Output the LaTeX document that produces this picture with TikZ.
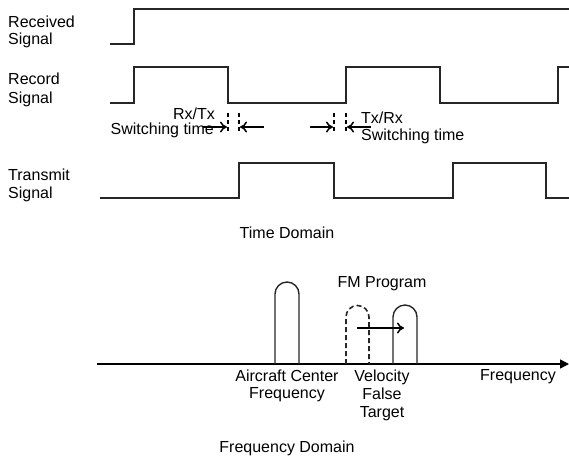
\documentclass[tikz,border=0pt]{standalone}
\usepackage{fontspec}
\setmainfont{Liberation Sans}
\usetikzlibrary{arrows.meta}
\begin{document}
\begin{tikzpicture}[x=1pt,y=-1pt,
  lbl/.style={inner sep=0pt,font=\fontsize{16}{19}\selectfont},
  wave/.style={line width=1.4pt,black!85},
  marker/.style={line width=1.3pt,dash pattern=on 4pt off 3pt},
  sw/.style={line width=1.5pt,-{To[length=7pt,width=11pt]}},
  bump/.style={line width=1.4pt,black!85}]
\useasboundingbox (0,0) rectangle (569,456);
% left labels
\node[lbl,anchor=base west] (recA) at (8,27) {Received};
\node[lbl,anchor=base west] (recB) at (8,44) {Signal};
\node[lbl,anchor=base west] (rcdA) at (8,84) {Record};
\node[lbl,anchor=base west] (rcdB) at (8,103) {Signal};
\node[lbl,anchor=base west] (trA) at (8,180) {Transmit};
\node[lbl,anchor=base west] (trB) at (8,198) {Signal};
% waveforms
\draw[wave] (110,44) -- (134,44) -- (134,9) -- (569,9);
\draw[wave] (110,103) -- (134,103) -- (134,67) -- (228,67) -- (228,103) -- (346,103) -- (346,67) -- (440,67) -- (440,103) -- (558,103) -- (558,67) -- (569,67);
\draw[wave] (100,198) -- (239,198) -- (239,163) -- (334,163) -- (334,198) -- (453,198) -- (453,163) -- (546,163) -- (546,198) -- (569,198);
% switching markers
\draw[marker] (228,113) -- (228,133);
\draw[marker] (239,113) -- (239,133);
\draw[marker] (334,113) -- (334,133);
\draw[marker] (346,113) -- (346,133);
\coordinate (a1s) at (203,127); \coordinate (a1e) at (227,127);
\coordinate (a2s) at (264,127); \coordinate (a2e) at (240,127);
\coordinate (a3s) at (310,127); \coordinate (a3e) at (333,127);
\coordinate (a4s) at (371,127); \coordinate (a4e) at (347,127);
\draw[sw] (a1s) -- (a1e);
\draw[sw] (a2s) -- (a2e);
\draw[sw] (a3s) -- (a3e);
\draw[sw] (a4s) -- (a4e);
\node[lbl,anchor=base east] (rxtx) at (215,119) {Rx/Tx};
\node[lbl,anchor=base east] (swA) at (214,134) {Switching time};
\node[lbl,anchor=base west] (txrx) at (361,123) {Tx/Rx};
\node[lbl,anchor=base west] (swB) at (361,140) {Switching time};
\node[lbl,anchor=base] (td) at (287,238) {Time Domain};
% frequency domain
\coordinate (ax0) at (97,364); \coordinate (ax1) at (569,364);
\draw[line width=1.4pt,-{Triangle[length=9pt,width=9pt]}] (ax0) -- (ax1);
\draw[bump] (275,364) -- (275,294) arc[start angle=180,end angle=360,radius=12] -- (299,364);
\draw[bump,line width=1.6pt,dash pattern=on 5pt off 3pt] (346,364) -- (346,317) arc[start angle=180,end angle=360,radius=11.5] -- (369,364);
\draw[bump] (393,364) -- (393,317) arc[start angle=180,end angle=360,radius=12] -- (417,364);
\coordinate (fm0) at (357,328); \coordinate (fm1) at (404,328);
\draw[line width=1.5pt,-{To[length=7pt,width=11pt]}] (fm0) -- (fm1);
\node[lbl,anchor=base] (fm) at (382,287) {FM Program};
\node[lbl,anchor=base] (acA) at (287,381) {Aircraft Center};
\node[lbl,anchor=base] (acB) at (287,398) {Frequency};
\node[lbl,anchor=base] (vA) at (382,381) {Velocity};
\node[lbl,anchor=base] (vB) at (382,399) {False};
\node[lbl,anchor=base] (vC) at (382,417) {Target};
\node[lbl,anchor=base west] (fq) at (480,380) {Frequency};
\node[lbl,anchor=base] (fd) at (287,452) {Frequency Domain};
\end{tikzpicture}
\end{document}
